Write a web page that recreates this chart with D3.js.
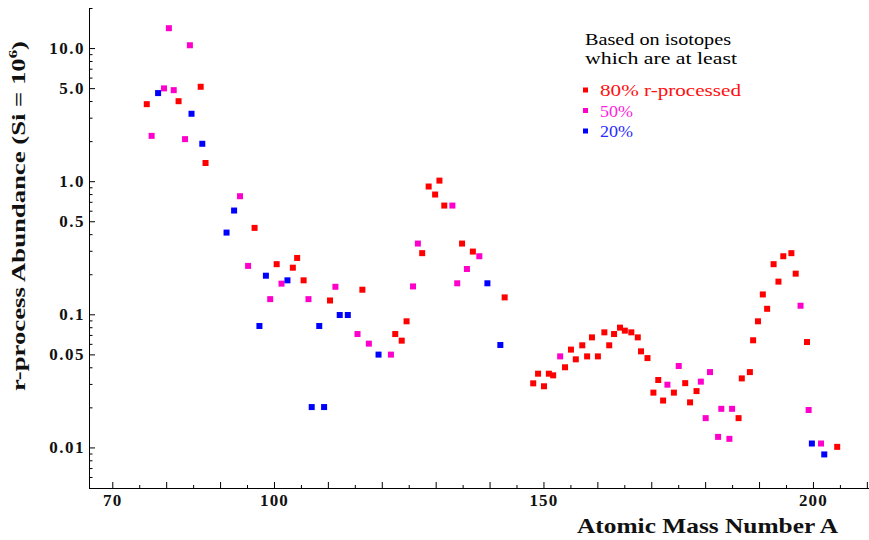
<!DOCTYPE html>
<html><head><meta charset="utf-8">
<script src="https://cdn.jsdelivr.net/npm/d3@7"></script>
<style>body{margin:0;background:#fff}svg{display:block}</style>
</head><body><svg id="c" width="869" height="540"></svg>
<script>
// ---- data: [mass number A, r-process abundance (Si = 1e6)] ----
const r80 = [
 [76.4,3.79],[82.3,3.99],[86.4,5.12],[87.3,1.37],[96.4,0.446],[100.5,0.238],[103.5,0.224],
 [104.3,0.265],[105.5,0.180],[110.4,0.127],[116.4,0.153],[122.5,0.0711],[123.7,0.0634],
 [124.6,0.0886],[127.5,0.288],[128.7,0.912],[129.9,0.794],[130.7,1.01],[131.6,0.656],
 [134.9,0.340],[136.9,0.296],[142.8,0.134],[148.1,0.0303],[149.0,0.0358],[150.1,0.0288],
 [151.0,0.0358],[151.8,0.0348],[154.0,0.0400],[155.1,0.0543],[156.0,0.0459],[157.2,0.0585],
 [158.1,0.0483],[159.0,0.0671],[160.1,0.0483],[161.3,0.0732],[162.2,0.0585],[163.1,0.0711],
 [164.2,0.0794],[165.1,0.0754],[166.3,0.0732],[167.5,0.0671],[168.1,0.0527],[169.3,0.0469],
 [170.4,0.0258],[171.3,0.0321],[172.2,0.0225],[174.2,0.0258],[176.3,0.0304],[177.2,0.0218],
 [178.4,0.0265],[186.2,0.0166],[186.8,0.0330],[188.3,0.0368],[188.9,0.0638],[189.8,0.0886],
 [190.7,0.141],[191.5,0.110],[192.7,0.238],[193.6,0.176],[194.5,0.273],[196.0,0.288],
 [196.8,0.202],[198.9,0.0619],[204.5,0.0101]
];
const r50 = [
 [77.3,2.19],[79.6,4.98],[80.5,14.1],[81.4,4.83],[83.5,2.07],[84.4,10.5],[93.7,0.771],
 [95.2,0.231],[99.3,0.130],[101.4,0.170],[106.4,0.130],[111.4,0.161],[115.5,0.0711],
 [117.6,0.0602],[121.7,0.0498],[125.8,0.162],[126.7,0.340],[133.1,0.656],[134.0,0.171],
 [135.8,0.219],[138.1,0.273],[153.1,0.0483],[173.0,0.0296],[175.1,0.0409],[179.2,0.0312],
 [180.1,0.0166],[180.9,0.0368],[182.4,0.0120],[183.0,0.0195],[184.5,0.0116],[185.0,0.0195],
 [197.7,0.116],[199.2,0.0191],[201.5,0.0107]
];
const r20 = [
 [78.5,4.59],[84.7,3.21],[86.7,1.91],[91.2,0.411],[92.6,0.602],[97.3,0.0817],[98.5,0.195],
 [102.5,0.180],[107.0,0.0201],[108.4,0.0817],[109.3,0.0201],[112.2,0.0988],[113.7,0.0988],
 [119.4,0.0498],[139.6,0.171],[142.0,0.0588],[199.8,0.0107],[202.1,0.00886]
];
const seriesNames = ["80% r-processed","50%","20%"];
const legendHeader = ["Based on isotopes","which are at least"];
const xMajorTicks = d3.range(70, 211, 10);
const xMinorTicks = d3.range(75, 210, 10);
const xLabelTicks = [70, 100, 150, 200];
const yLabelTicks = [0.01, 0.05, 0.1, 0.5, 1, 5, 10];
const yLabelText = ["0.01","0.05","0.1","0.5","1.0","5.0","10.0"];

// ---- layout ----
const markColors = ["#ff0000","#ff00cc","#0000ff"];
const textColors = ["#ff1010","#ff22dd","#2a2aff"];
const svg = d3.select("#c");
const x = d3.scaleLinear().domain([65.68, 210.4]).range([89, 869]);
const y = d3.scaleLog().domain([0.005, 20]).range([487.5, 8]);

const serif = "'Liberation Serif','Times New Roman',serif";

const yMinor = [];
[0.001,0.01,0.1,1,10].forEach(d => [2,3,4,6,7,8,9].forEach(m => {
  const v = +(d*m).toPrecision(3);
  if (v >= 0.005 && v <= 20) yMinor.push(v);
}));

// x axis
const gx = svg.append("g").attr("transform","translate(0,488)");
gx.call(d3.axisBottom(x).tickValues(xMinorTicks).tickSizeInner(-3).tickSizeOuter(0).tickFormat(""));
gx.append("g").call(d3.axisBottom(x).tickValues(xMajorTicks).tickSizeInner(-6).tickSizeOuter(0)
  .tickPadding(6).tickFormat(d => xLabelTicks.includes(d) ? d : ""));
gx.selectAll("path.domain").attr("d","M89,0.5H869").attr("stroke","#000");
gx.selectAll("text").attr("font-family",serif).attr("font-weight","bold").attr("font-size",17)
  .attr("letter-spacing",1.2).attr("fill","#111");

// y axis
const gy = svg.append("g").attr("transform","translate(89,0)");
gy.call(d3.axisLeft(y).tickValues(yMinor).tickSizeInner(-3.5).tickSizeOuter(0).tickFormat(""));
gy.append("g").call(d3.axisLeft(y).tickValues(yLabelTicks).tickSizeInner(-6).tickSizeOuter(0)
  .tickPadding(4).tickFormat((d,i) => yLabelText[i]));
gy.selectAll("path.domain").attr("d","M0.5,8V488").attr("stroke","#000");
gy.selectAll("text").attr("font-family",serif).attr("font-weight","bold").attr("font-size",17)
  .attr("letter-spacing",1.5).attr("fill","#111");

// points
[r80, r50, r20].forEach((ser, i) => {
  svg.append("g").selectAll("rect").data(ser).join("rect")
    .attr("x", d => x(d[0]) - 3).attr("y", d => y(d[1]) - 3)
    .attr("width", 6).attr("height", 6).attr("fill", markColors[i]);
});

// axis titles
svg.append("text").attr("x",577).attr("y",533).attr("font-family",serif).attr("font-weight","bold")
  .attr("font-size",21).attr("textLength",261).attr("lengthAdjust","spacingAndGlyphs")
  .attr("fill","#111").text("Atomic Mass Number A");

const yt = svg.append("text").attr("transform","translate(25,216) rotate(-90)")
  .attr("text-anchor","middle").attr("font-family",serif).attr("font-weight","bold")
  .attr("font-size",19).attr("textLength",350).attr("lengthAdjust","spacingAndGlyphs").attr("fill","#111");
yt.append("tspan").text("r-process Abundance (Si = 10");
yt.append("tspan").attr("dy",-8).attr("font-size",12).text("6");
yt.append("tspan").attr("dy",8).text(")");

// legend
const lg = svg.append("g");
legendHeader.forEach((t,i) => {
  lg.append("text").attr("x",585).attr("y",45 + i*19).attr("font-family",serif)
    .attr("font-size",16).attr("textLength", i ? 152 : 146).attr("lengthAdjust","spacingAndGlyphs")
    .attr("fill","#000").text(t);
});
const legLen = [141, 33, 33];
seriesNames.forEach((t,i) => {
  const cy = 90 + i*20.5;
  lg.append("rect").attr("x",583).attr("y",cy-2.5).attr("width",5).attr("height",5).attr("fill",markColors[i]);
  lg.append("text").attr("x",600).attr("y",cy+6).attr("font-family",serif).attr("font-size",17)
    .attr("textLength",legLen[i]).attr("lengthAdjust","spacingAndGlyphs")
    .attr("fill",textColors[i]).text(t);
});
</script></body></html>
